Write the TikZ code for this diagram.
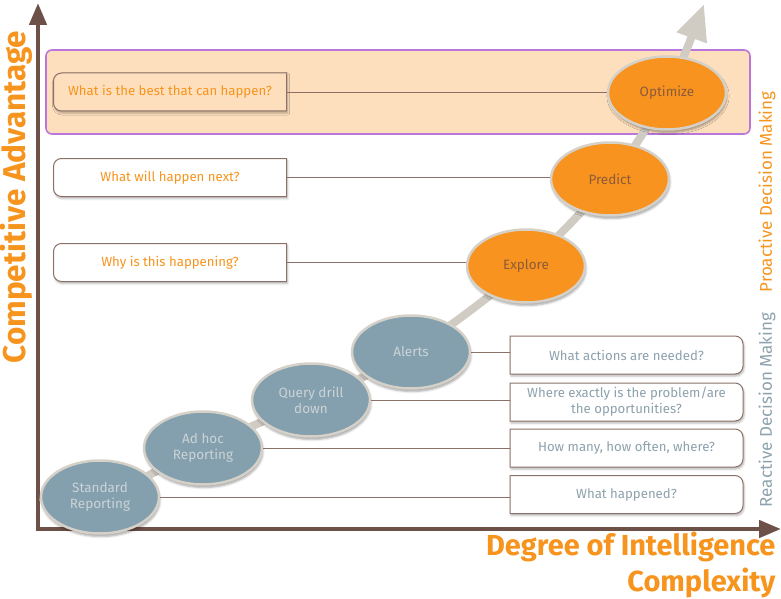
\documentclass[tikz,border=0pt]{standalone}
\usepackage{fontspec}
\setmainfont{Fira Sans}
\usetikzlibrary{shadows, shadows.blur, arrows.meta, shapes.geometric, positioning}

\definecolor{axisbrown}{HTML}{6D5048}
\definecolor{headorange}{HTML}{F7941D}
\definecolor{bandfill}{HTML}{FDDFBE}
\definecolor{bandline}{HTML}{B977DB}
\definecolor{stageblue}{HTML}{84A0AE}
\definecolor{stagebluetext}{HTML}{CBD3D6}
\definecolor{stageorange}{HTML}{F7931E}
\definecolor{stageorangetext}{HTML}{8D5B3B}
\definecolor{stageline}{HTML}{D5D0C8}
\definecolor{pathgray}{HTML}{D0CBC3}
\definecolor{boxline}{HTML}{8C7168}
\definecolor{reacttext}{HTML}{8DA2AD}

% question boxes (233 x 38), rounded on one side only
\newcommand{\leftframe}[2]{%
  \draw[qframe, fill=#2, shift={#1}] (116.5,-19) -- (-108.5,-19)
    arc[start angle=90, end angle=180, radius=8pt] -- (-116.5,11)
    arc[start angle=180, end angle=270, radius=8pt] -- (116.5,19) -- cycle;}
\newcommand{\rightframe}[2]{%
  \draw[qframe, fill=#2, shift={#1}] (-116.5,-19) -- (108.5,-19)
    arc[start angle=90, end angle=0, radius=8pt] -- (116.5,11)
    arc[start angle=0, end angle=-90, radius=8pt] -- (-116.5,19) -- cycle;}

\begin{document}
\begin{tikzpicture}[x=1pt, y=-1pt,
  stage/.style={ellipse, minimum width=118pt, minimum height=73pt, inner sep=1pt,
    draw=stageline, line width=2.5pt, align=center, font=\fontsize{13.5}{16}\selectfont,
    blur shadow={shadow xshift=1pt, shadow yshift=-3pt, shadow opacity=35}},
  reactive/.style={stage, fill=stageblue, text=stagebluetext},
  proactive/.style={stage, fill=stageorange, text=stageorangetext},
  qbox/.style={minimum width=233pt, minimum height=38pt, inner sep=2pt, align=center,
    font=\fontsize{13.2}{16}\selectfont},
  qframe/.style={draw=boxline, line width=1pt,
    blur shadow={shadow xshift=1pt, shadow yshift=-2pt, shadow opacity=30}},
  conn/.style={draw=boxline, line width=0.9pt},
  axisline/.style={draw=axisbrown, line width=4.5pt},
  bigtext/.style={text=headorange, font=\fontsize{29}{32}\selectfont\bfseries}]
\useasboundingbox (0,0) rectangle (781,599);

% highlight band
\draw[draw=bandline, fill=bandfill, line width=1.6pt, rounded corners=6pt] (46,50) rectangle (750,134);

% axes
\coordinate (origin) at (38,529);
\coordinate (ytop) at (38,3);
\coordinate (xend) at (781,529);
\draw[axisline, {Triangle[length=22pt,width=17pt]}-{Triangle[length=22pt,width=17pt]}] (ytop) -- (origin) -- (xend);

\node[bigtext, rotate=90, font=\fontsize{31.5}{34}\selectfont\bfseries] (yaxis) at (16,197) {Competitive Advantage};
\node[bigtext, anchor=base east] (xaxis) at (779,555) {Degree of Intelligence};
\node[bigtext, anchor=base east] (xaxis2) at (779,591) {Complexity};

\node[rotate=90, text=headorange, font=\fontsize{17}{19}\selectfont] (pro) at (767,192) {Proactive Decision Making};
\node[rotate=90, text=reacttext, font=\fontsize{17}{19}\selectfont] (rea) at (767,410) {Reactive Decision Making};

% stage positions
\coordinate (pstart) at (40,497);
\coordinate (s1) at (100,497);
\coordinate (s2) at (203,448);
\coordinate (s3) at (311,400);
\coordinate (s4) at (411,352);
\coordinate (s5) at (526,266);
\coordinate (s6) at (610,179);
\coordinate (s7) at (667,93);
\coordinate (ptip) at (704,4);

% growth arrow
\draw[pathgray, line width=8pt, -{Triangle[length=36pt,width=30pt]}]
  plot[smooth, tension=0.55] coordinates {(pstart) (s1) (s2) (s3) (s4) (s5) (s6) (s7) (ptip)};

% stages
\node[reactive] (std) at (s1) {Standard\\Reporting};
\node[reactive] (adhoc) at (s2) {Ad hoc\\Reporting};
\node[reactive] (drill) at (s3) {Query drill\\down};
\node[reactive] (alerts) at (s4) {Alerts};
\node[proactive] (explore) at (s5) {Explore};
\node[proactive] (predict) at (s6) {Predict};
\node[proactive] (optimize) at (s7) {Optimize};

% questions
\leftframe{(170,92)}{bandfill}
\leftframe{(170,177.5)}{white}
\leftframe{(170,262.5)}{white}
\foreach \y in {355,402,448,494.5} {\rightframe{(626.5,\y)}{white}}

\node[qbox, text=headorange] (q1) at (170,92) {What is the best that can happen?};
\node[qbox, text=headorange] (q2) at (170,177.5) {What will happen next?};
\node[qbox, text=headorange] (q3) at (170,262.5) {Why is this happening?};
\node[qbox, text=reacttext] (q4) at (626.5,355) {What actions are needed?};
\node[qbox, text=reacttext] (q5) at (626.5,402) {Where exactly is the problem/are\\the opportunities?};
\node[qbox, text=reacttext] (q6) at (626.5,448) {How many, how often, where?};
\node[qbox, text=reacttext] (q7) at (626.5,494.5) {What happened?};

% connectors
\draw[conn] (q1.east) -- (q1.east -| optimize.west);
\draw[conn] (q2.east) -- (q2.east -| predict.west);
\draw[conn] (q3.east) -- (q3.east -| explore.west);
\draw[conn] (alerts.east) -- (alerts.east -| q4.west);
\draw[conn] (drill.east) -- (drill.east -| q5.west);
\draw[conn] (adhoc.east) -- (adhoc.east -| q6.west);
\draw[conn] (std.east) -- (std.east -| q7.west);
\end{tikzpicture}
\end{document}
